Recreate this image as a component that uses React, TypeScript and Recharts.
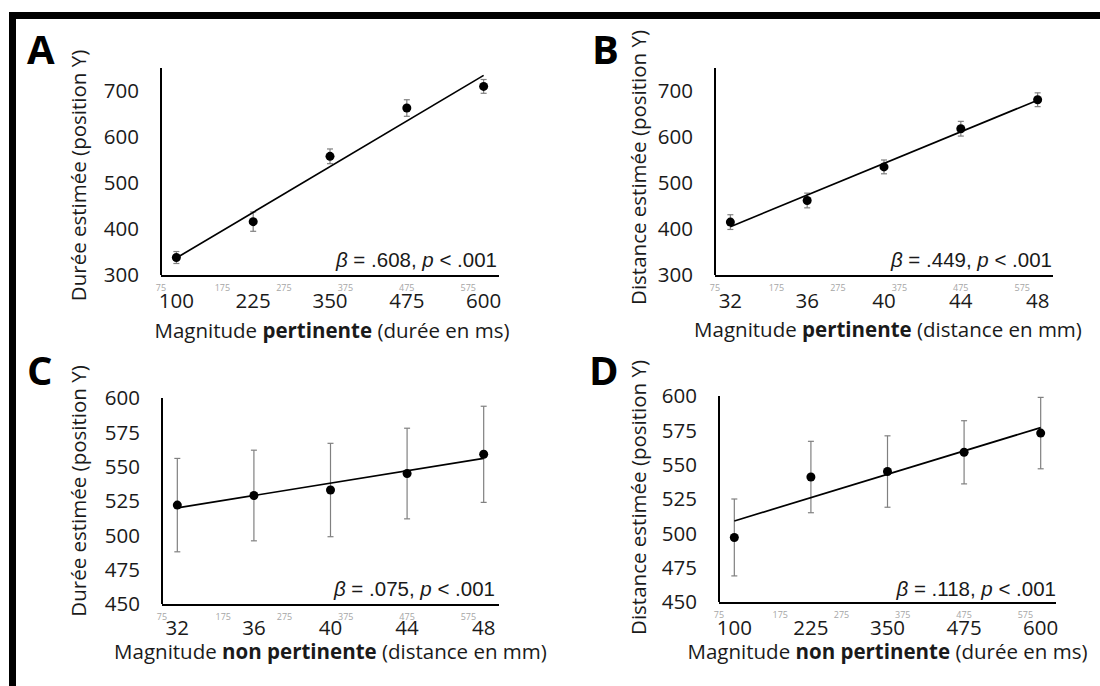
import { ScatterChart, Scatter, XAxis, YAxis, ErrorBar, Label } from 'recharts';

// Stimuli : durées (ms) et distances (mm)
const durees = [100, 225, 350, 475, 600];
const distances = [32, 36, 40, 44, 48];
// graduations grises parasites de l'axe secondaire
const graduationsGrises = [75, 175, 275, 375, 475, 575];

// A : durée estimée selon la durée (pertinente)
const moyA = [338, 416, 558, 663, 710];
const errA = [13, 21, 16, 18, 15];
const droiteA = [337, 734];

// B : distance estimée selon la distance (pertinente)
const moyB = [415, 462, 535, 618, 681];
const errB = [16, 16, 15, 16, 15];
const droiteB = [405, 680];

// C : durée estimée selon la distance (non pertinente)
const moyC = [522, 529, 533, 545, 559];
const errC = [34, 33, 34, 33, 35];
const droiteC = [520, 556];

// D : distance estimée selon la durée (non pertinente)
const moyD = [497, 541, 545, 559, 573];
const errD = [28, 26, 26, 23, 26];
const droiteD = [509, 577];

const ticksHaut = [300, 400, 500, 600, 700];
const ticksBas = [450, 475, 500, 525, 550, 575, 600];

const TEXTE = '#1a1a1a';

const panneaux = [
  {
    lettre: 'A', left: 0, top: 0, h: 360, xs: durees, moy: moyA, err: errA, droite: droiteA,
    xDomain: [75, 625], yDomain: [300, 750], yTicks: ticksHaut,
    margin: { top: 68, right: 51, bottom: 83, left: 61 },
    yTitre: 'Durée estimée (position Y)', yGap: 75, yDy: 4,
    xTitre: ['Magnitude ', 'pertinente', ' (durée en ms)'], xBase: 62, xDx: 2, xTickMargin: 17,
    beta: '.608', annDx: -2, annDy: -8.5,
  },
  {
    lettre: 'B', left: 550, top: 0, h: 360, xs: distances, moy: moyB, err: errB, droite: droiteB,
    xDomain: [31.2, 48.8], yDomain: [300, 750], yTicks: ticksHaut,
    margin: { top: 68, right: 47, bottom: 83, left: 65 },
    yTitre: 'Distance estimée (position Y)', yGap: 69, yDy: -4,
    xTitre: ['Magnitude ', 'pertinente', ' (distance en mm)'], xBase: 61, xDx: 4, xTickMargin: 17,
    beta: '.449', annDx: -1, annDy: -8.5,
  },
  {
    lettre: 'C', left: 0, top: 343, h: 343, xs: distances, moy: moyC, err: errC, droite: droiteC,
    xDomain: [31.2, 48.8], yDomain: [450, 600], yTicks: ticksBas,
    margin: { top: 55, right: 51, bottom: 80, left: 62 },
    yTitre: 'Durée estimée (position Y)', yGap: 76, yDy: -10,
    xTitre: ['Magnitude ', 'non pertinente', ' (distance en mm)'], xBase: 54, xDx: 0, xTickMargin: 15,
    beta: '.075', annDx: -4, annDy: -8.5,
  },
  {
    lettre: 'D', left: 550, top: 343, h: 343, xs: durees, moy: moyD, err: errD, droite: droiteD,
    xDomain: [75, 625], yDomain: [450, 600], yTicks: ticksBas,
    margin: { top: 53, right: 44, bottom: 82, left: 69 },
    yTitre: 'Distance estimée (position Y)', yGap: 73, yDy: -1.5,
    xTitre: ['Magnitude ', 'non pertinente', ' (durée en ms)'], xBase: 56, xDx: 0, xTickMargin: 17,
    beta: '.118', annDx: 0, annDy: -6.5,
  },
];

const Panneau = ({ p }: { p: any }) => {
  const points = p.xs.map((x: number, i: number) => ({ x, y: p.moy[i], e: p.err[i] }));
  const droite = [
    { x: p.xs[0], y: p.droite[0] },
    { x: p.xs[p.xs.length - 1], y: p.droite[1] },
  ];
  // ancrage invisible de l'axe gris (sinon recharts ne lui calcule pas de domaine)
  const ancrageGris = graduationsGrises.map((v) => ({ g: v, y: p.yDomain[0] }));

  const titreX = (props: any) => {
    const vb = props.viewBox || {};
    return (
      <text x={vb.x + vb.width / 2 + p.xDx} y={vb.y + p.xBase} textAnchor="middle" fontSize={20.5} fill={TEXTE} style={{ whiteSpace: 'pre' }}>
        <tspan>{p.xTitre[0]}</tspan>
        <tspan fontWeight="bold">{p.xTitre[1]}</tspan>
        <tspan>{p.xTitre[2]}</tspan>
      </text>
    );
  };

  const titreY = (props: any) => {
    const vb = props.viewBox || {};
    const bx = vb.x + vb.width - p.yGap;
    const cy = vb.y + vb.height / 2 + p.yDy;
    return (
      <text x={bx} y={cy} transform={`rotate(-90, ${bx}, ${cy})`} textAnchor="middle" fontSize={20.5} fill={TEXTE}>
        {p.yTitre}
      </text>
    );
  };

  const annotation = (props: any) => {
    const vb = props.viewBox || {};
    return (
      <text x={vb.x + vb.width + p.annDx} y={vb.y + p.annDy} textAnchor="end" fontSize={20.5} fill={TEXTE}
        fontFamily="'Liberation Sans', Arial, sans-serif" style={{ whiteSpace: 'pre' }}>
        <tspan fontStyle="italic">β</tspan>
        <tspan>{` = ${p.beta}, `}</tspan>
        <tspan fontStyle="italic">p</tspan>
        <tspan>{' < .001'}</tspan>
      </text>
    );
  };

  return (
    <div style={{ position: 'absolute', left: p.left, top: p.top }}>
      <ScatterChart width={550} height={p.h} margin={p.margin}>
        <XAxis
          xAxisId="m"
          dataKey="x"
          type="number"
          domain={p.xDomain}
          ticks={p.xs}
          interval={0}
          height={1}
          allowDataOverflow
          axisLine={{ stroke: '#000', strokeWidth: 2 }}
          tickLine={false}
          tickSize={0}
          tickMargin={p.xTickMargin}
          tick={{ fontSize: 20.5, fill: TEXTE }}
        >
          <Label content={titreX} />
        </XAxis>
        <XAxis
          xAxisId="g"
          dataKey="g"
          type="number"
          domain={[75, 625]}
          ticks={graduationsGrises}
          interval={0}
          height={1}
          allowDataOverflow
          axisLine={false}
          tickLine={false}
          tickSize={0}
          tickMargin={10}
          tick={{ fontSize: 9, fill: '#a6a6a6' }}
        >
          <Label content={annotation} />
        </XAxis>
        <YAxis
          dataKey="y"
          type="number"
          domain={p.yDomain}
          ticks={p.yTicks}
          interval={0}
          width={100}
          allowDataOverflow
          axisLine={{ stroke: '#000', strokeWidth: 2 }}
          tickLine={false}
          tickSize={0}
          tickMargin={22}
          tick={{ fontSize: 20.5, fill: TEXTE }}
        >
          <Label content={titreY} />
        </YAxis>
        <Scatter
          xAxisId="g"
          data={ancrageGris}
          shape={() => <g />}
          legendType="none"
          isAnimationActive={false}
        />
        <Scatter
          xAxisId="m"
          data={droite}
          line={{ stroke: '#000', strokeWidth: 1.7 }}
          shape={() => <g />}
          legendType="none"
          isAnimationActive={false}
        />
        <Scatter
          xAxisId="m"
          data={points}
          shape={(s: any) => <circle cx={s.cx} cy={s.cy} r={4.5} fill="#000" />}
          legendType="none"
          isAnimationActive={false}
        >
          <ErrorBar dataKey="e" direction="y" width={3} stroke="#808080" strokeWidth={1.2} isAnimationActive={false} />
        </Scatter>
      </ScatterChart>
    </div>
  );
};

const lettres = [
  { t: 'A', x: 27, y: 64 },
  { t: 'B', x: 592, y: 64 },
  { t: 'C', x: 27, y: 385 },
  { t: 'D', x: 589, y: 385 },
];

export default function App() {
  return (
    <div
      style={{
        position: 'absolute',
        left: 0,
        top: 0,
        width: 1100,
        height: 686,
        overflow: 'hidden',
        background: '#fff',
        fontFamily: "'Open Sans', sans-serif",
      }}
    >
      <svg width={1100} height={686} style={{ position: 'absolute', left: 0, top: 0 }}>
        <rect x={9} y={12} width={1091} height={7} fill="#000" />
        <rect x={9} y={12} width={7} height={674} fill="#000" />
        {lettres.map((l) => (
          <text key={l.t} x={l.x} y={l.y} fontSize={40} fontWeight="bold" fill="#000" fontFamily="'Open Sans', sans-serif">
            {l.t}
          </text>
        ))}
      </svg>
      {panneaux.map((p) => (
        <Panneau key={p.lettre} p={p} />
      ))}
    </div>
  );
}
